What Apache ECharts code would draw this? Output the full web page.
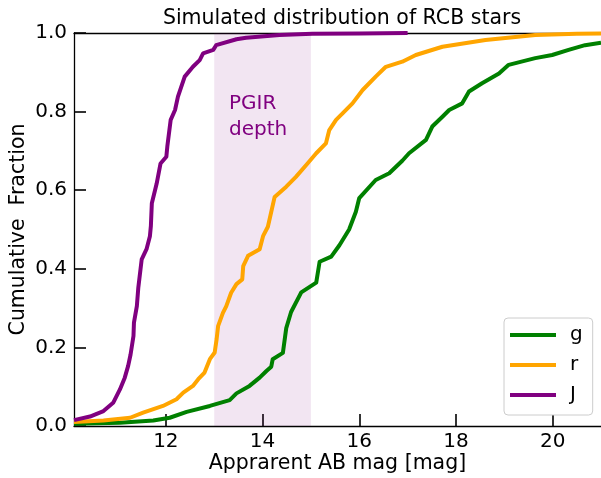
<!DOCTYPE html>
<html>
<head>
<meta charset="utf-8">
<script src="https://cdn.jsdelivr.net/npm/echarts@6/dist/echarts.min.js"></script>
<style>html,body{margin:0;padding:0;background:#fff}#c{width:601px;height:478px}</style>
</head>
<body>
<div id="c"></div>
<script>
var titleText = 'Simulated distribution of RCB stars';
var xLabel = 'Apprarent AB mag [mag]';
var yLabel = 'Cumulative  Fraction';
var xTicks = [12, 14, 16, 18, 20];
var yTicks = [0, 0.2, 0.4, 0.6, 0.8, 1.0];
var bandRange = [13, 15];
var bandText = 'PGIR\ndepth';
var seriesNames = ['g', 'r', 'J'];

var gMag = [10.10, 11.05, 11.74, 12.08, 12.43, 12.91, 13.32, 13.46, 13.73, 13.94, 14.08, 14.18, 14.21, 14.42, 14.49, 14.59, 14.80, 15.11, 15.18, 15.42, 15.59, 15.79, 15.93, 16.00, 16.34, 16.62, 16.89, 17.03, 17.38, 17.51, 17.72, 17.86, 18.13, 18.27, 18.54, 18.89, 19.09, 19.64, 19.99, 20.33, 20.67, 21.0];
var gFrac = [0.006, 0.008, 0.014, 0.021, 0.036, 0.051, 0.066, 0.083, 0.102, 0.123, 0.140, 0.151, 0.170, 0.186, 0.249, 0.290, 0.340, 0.365, 0.418, 0.431, 0.460, 0.500, 0.545, 0.580, 0.626, 0.643, 0.675, 0.694, 0.728, 0.762, 0.787, 0.804, 0.821, 0.851, 0.872, 0.897, 0.919, 0.936, 0.944, 0.957, 0.969, 0.975];

var rMag = [10.10, 10.71, 11.26, 11.53, 11.94, 12.22, 12.36, 12.56, 12.67, 12.80, 12.91, 13.01, 13.05, 13.08, 13.18, 13.25, 13.35, 13.46, 13.58, 13.60, 13.70, 13.94, 14.01, 14.11, 14.25, 14.49, 14.69, 14.93, 15.11, 15.31, 15.38, 15.52, 15.66, 15.86, 16.07, 16.34, 16.55, 16.89, 17.17, 17.72, 18.61, 19.64, 20.5, 21.0];
var rFrac = [0.010, 0.014, 0.021, 0.034, 0.051, 0.068, 0.085, 0.102, 0.119, 0.136, 0.170, 0.187, 0.221, 0.254, 0.288, 0.305, 0.339, 0.361, 0.373, 0.407, 0.433, 0.450, 0.483, 0.507, 0.583, 0.609, 0.634, 0.668, 0.694, 0.719, 0.753, 0.779, 0.796, 0.821, 0.855, 0.889, 0.914, 0.927, 0.944, 0.965, 0.982, 0.995, 0.998, 0.999];

var jMag = [10.10, 10.12, 10.43, 10.71, 10.91, 11.05, 11.15, 11.22, 11.27, 11.33, 11.34, 11.40, 11.43, 11.50, 11.60, 11.67, 11.69, 11.71, 11.81, 11.89, 12.01, 12.03, 12.10, 12.19, 12.25, 12.39, 12.56, 12.70, 12.77, 12.98, 13.04, 13.46, 13.66, 14.35, 15.03, 16.00, 17.00];
var jFrac = [0.015, 0.017, 0.024, 0.038, 0.059, 0.093, 0.123, 0.153, 0.182, 0.229, 0.263, 0.305, 0.352, 0.424, 0.450, 0.483, 0.509, 0.567, 0.617, 0.668, 0.685, 0.711, 0.779, 0.804, 0.838, 0.889, 0.914, 0.931, 0.948, 0.957, 0.969, 0.984, 0.988, 0.995, 0.998, 0.999, 1.000];

var colors = ['#008000', '#ffa500', '#800080'];
var FONT = 'DejaVu Sans';

function zip(a, b) { return a.map(function (v, i) { return [v, b[i]]; }); }

var chart = echarts.init(document.getElementById('c'), null, {renderer: 'canvas'});

function lineSeries(name, mags, fracs, color, extra) {
  var s = {
    name: name, type: 'line', data: zip(mags, fracs),
    showSymbol: false, symbol: 'none',
    lineStyle: {color: color, width: 4, join: 'round'},
    itemStyle: {color: color},
    animation: false, z: 3
  };
  if (extra) for (var k in extra) s[k] = extra[k];
  return s;
}

chart.setOption({
  animation: false,
  textStyle: {fontFamily: FONT},
  title: {
    text: titleText, left: 337, top: 3, textAlign: 'center',
    textStyle: {fontFamily: FONT, fontSize: 20.5, fontWeight: 'normal', color: '#000'}
  },
  grid: {left: 74, right: 0, top: 33, bottom: 52, containLabel: false, outerBoundsMode: 'none'},
  legend: {
    data: seriesNames, orient: 'vertical', left: 504, top: 318,
    icon: 'rect', itemWidth: 46, itemHeight: 4, itemGap: 10,
    padding: [7, 10, 10, 6],
    backgroundColor: '#fff', borderColor: '#cccccc', borderWidth: 1, borderRadius: 4,
    textStyle: {fontFamily: FONT, fontSize: 20, color: '#000', lineHeight: 20, padding: [0, 0, 0, 9]}
  },
  xAxis: [{
    type: 'value', min: 10.1, max: 21, position: 'bottom',
    name: xLabel, nameLocation: 'middle', nameGap: 27, nameMoveOverlap: false,
    nameTextStyle: {fontFamily: FONT, fontSize: 20.5, color: '#000'},
    axisLine: {show: true, onZero: false, lineStyle: {color: '#000', width: 1.3}},
    axisTick: {show: true, inside: true, length: 12, lineStyle: {color: '#000', width: 1.6}, customValues: xTicks},
    axisLabel: {show: true, margin: 6, fontFamily: FONT, fontSize: 20, color: '#000', customValues: xTicks,
      formatter: function (v) { return String(Math.round(v)); }},
    splitLine: {show: false}
  }, {
    type: 'value', min: 10.1, max: 21, position: 'top',
    axisLine: {show: true, onZero: false, lineStyle: {color: '#000', width: 1.3}},
    axisTick: {show: false}, axisLabel: {show: false}, splitLine: {show: false}
  }],
  yAxis: [{
    type: 'value', min: 0, max: 1, interval: 0.2,
    name: yLabel, nameLocation: 'middle', nameGap: 45, nameRotate: 90, nameMoveOverlap: false,
    nameTextStyle: {fontFamily: FONT, fontSize: 20.5, color: '#000'},
    axisLine: {show: true, onZero: false, lineStyle: {color: '#000', width: 1.3}},
    axisTick: {show: true, inside: true, length: 12, lineStyle: {color: '#000', width: 1.6}},
    axisLabel: {show: true, margin: 7, fontFamily: FONT, fontSize: 20, color: '#000',
      formatter: function (v) { return v.toFixed(1); }},
    splitLine: {show: false}
  }],
  graphic: [{
    type: 'text', left: 229, top: 91, z: 5,
    style: {text: bandText, fill: '#800080', font: '20px "DejaVu Sans"', lineHeight: 26}
  }],
  series: [
    lineSeries(seriesNames[0], gMag, gFrac, colors[0], {
      markArea: {
        silent: true,
        itemStyle: {color: 'rgba(128,0,128,0.1)'},
        data: [[{xAxis: bandRange[0]}, {xAxis: bandRange[1]}]]
      }
    }),
    lineSeries(seriesNames[1], rMag, rFrac, colors[1]),
    lineSeries(seriesNames[2], jMag, jFrac, colors[2])
  ]
});
</script>
</body>
</html>
